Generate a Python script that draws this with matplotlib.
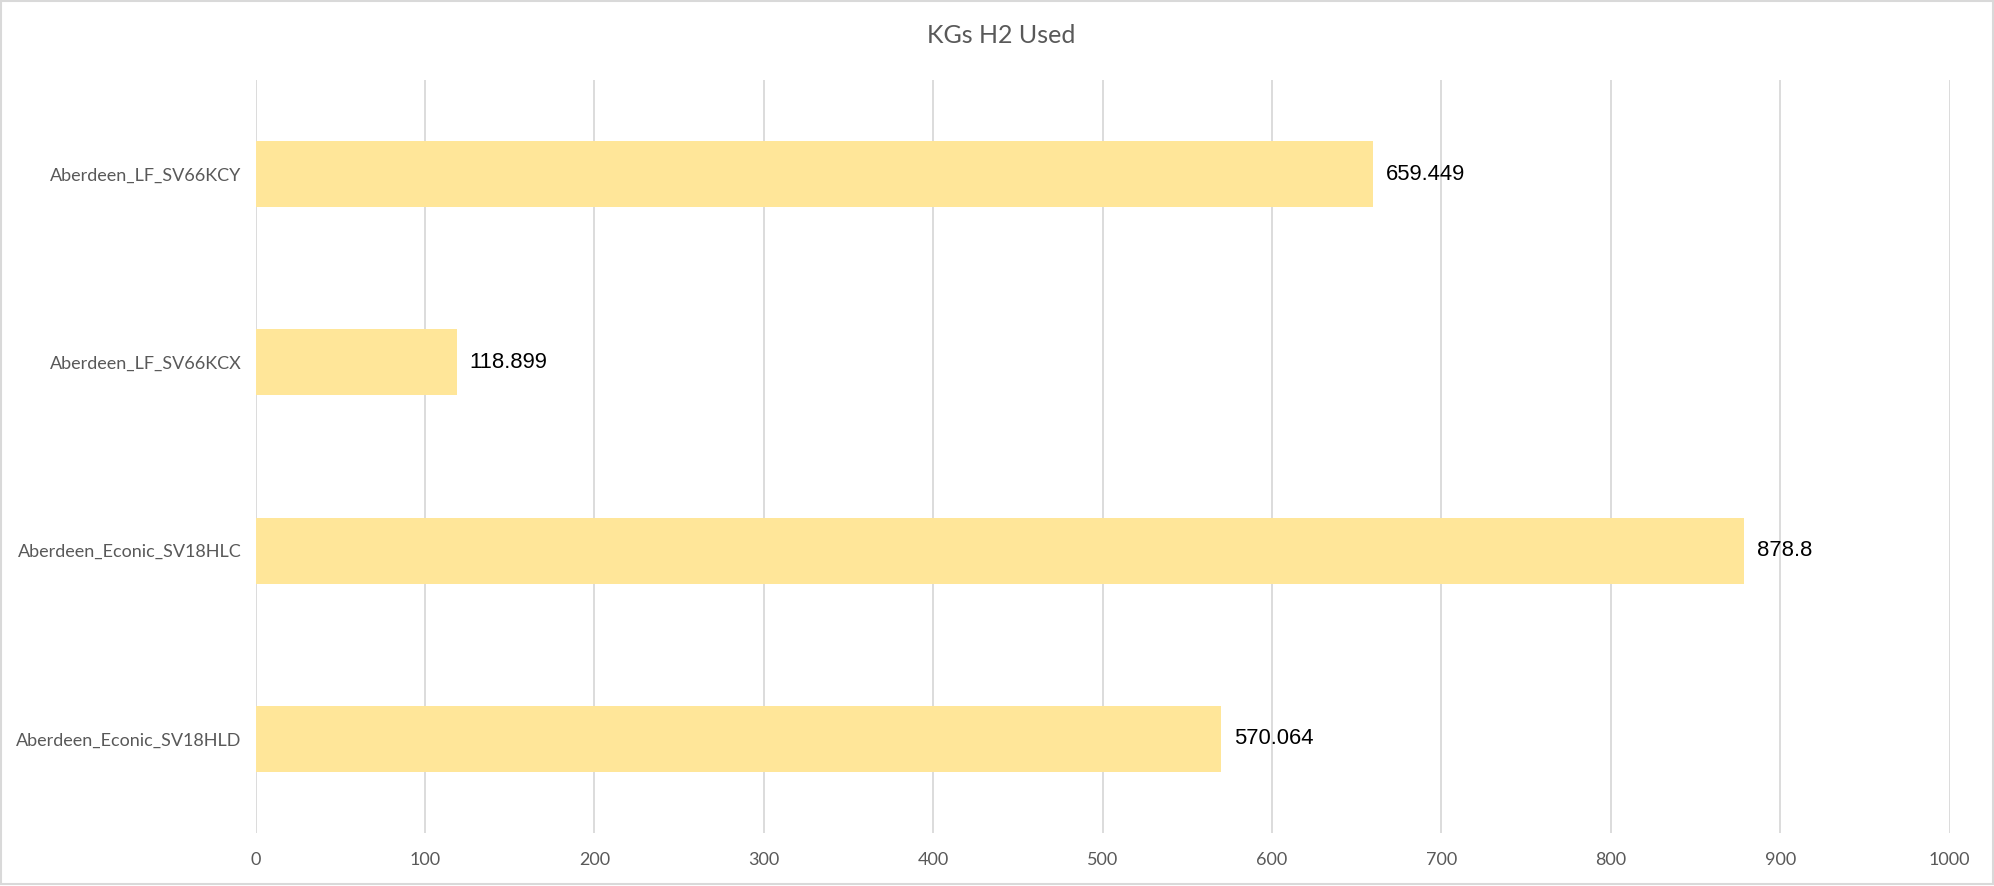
import matplotlib.pyplot as plt
from matplotlib.patches import Rectangle

# data (bottom to top, as Excel draws it)
vehicles = ["Aberdeen_Econic_SV18HLD", "Aberdeen_Econic_SV18HLC",
            "Aberdeen_LF_SV66KCX", "Aberdeen_LF_SV66KCY"]
kgs_used = [570.064, 878.8, 118.899, 659.449]
value_labels = ["570.064", "878.8", "118.899", "659.449"]
x_ticks = [0, 100, 200, 300, 400, 500, 600, 700, 800, 900, 1000]

BAR_COLOR = "#FFE699"
GRID_COLOR = "#D9D9D9"
TEXT_COLOR = "#595959"

plt.rcParams['font.family'] = ['Lato', 'DejaVu Sans']

fig = plt.figure(figsize=(19.94, 8.86), dpi=100)
ax = fig.add_axes([0.1282, 0.0598, 0.8495, 0.8499])

ypos = list(range(len(vehicles)))
ax.barh(ypos, kgs_used, height=0.35, color=BAR_COLOR, zorder=2)

for y, v, lab in zip(ypos, kgs_used, value_labels):
    ax.text(v + 7.5, y, lab, va='center', ha='left', fontsize=15.8,
            family='Liberation Sans', color='black')

ax.set_xlim(0, 1000)
ax.set_ylim(-0.5, len(vehicles) - 0.5)
ax.set_xticks(x_ticks)
ax.set_yticks(ypos)
ax.set_yticklabels(vehicles)
ax.tick_params(axis='both', length=0, colors=TEXT_COLOR, labelsize=13)
ax.tick_params(axis='x', pad=14)
ax.tick_params(axis='y', pad=10)

ax.grid(axis='x', color=GRID_COLOR, linewidth=1.3, zorder=0)
ax.set_axisbelow(True)
for s in ax.spines.values():
    s.set_visible(False)

fig.text(0.502, 0.96, "KGs H2 Used", ha='center', va='center',
         fontsize=18, color=TEXT_COLOR)

# thin chart border
fig.patches.append(Rectangle((0.0005, 0.002), 0.999, 0.997, transform=fig.transFigure,
                             fill=False, edgecolor=GRID_COLOR, linewidth=1.5))

fig.savefig("out.png", dpi=100)
